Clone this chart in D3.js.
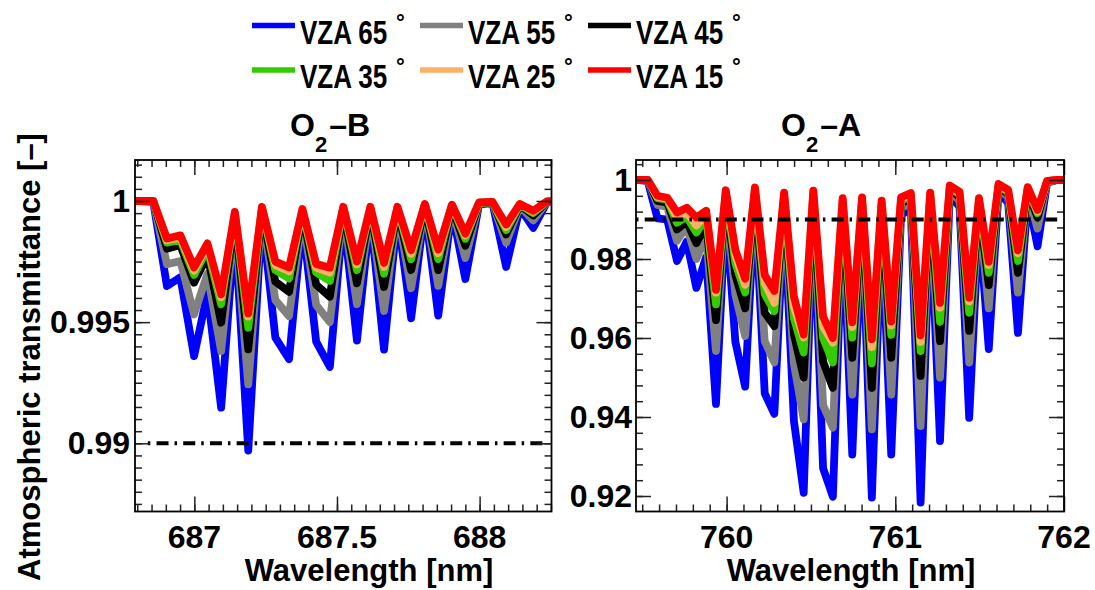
<!DOCTYPE html>
<html><head><meta charset="utf-8">
<script src="https://cdn.jsdelivr.net/npm/d3@7"></script>
<style>
body{margin:0;background:#fff}
svg{display:block}
text{font-family:"Liberation Sans",Arial,Helvetica,sans-serif;font-weight:bold;fill:#000}
</style>
</head><body>
<svg id="c" width="1095" height="590"></svg>
<script>
// ---------- data ----------
const seriesNames = ["VZA 65", "VZA 55", "VZA 45", "VZA 35", "VZA 25", "VZA 15"];
const seriesColors = ["#0000ff", "#808080", "#000000", "#33cc00", "#ffb066", "#ff0000"];

// O2-B band
const wlB = [686.761, 686.809, 686.856, 686.904, 686.951, 686.999, 687.046, 687.094, 687.142, 687.189,
  687.237, 687.284, 687.332, 687.379, 687.427, 687.475, 687.522, 687.570, 687.617, 687.665,
  687.712, 687.760, 687.808, 687.855, 687.903, 687.950, 687.998, 688.045, 688.093, 688.141,
  688.188, 688.236, 688.283];
const tB65 = [1, 1, 0.99996, 0.99649, 0.99685, 0.99360, 0.99620, 0.99147, 0.99895, 0.98970, 0.99944, 0.99436, 0.99347, 0.99922, 0.99420, 0.99315, 0.99944, 0.99424, 0.99944, 0.99387, 0.99944, 0.99516, 0.99971, 0.99527, 0.99965, 0.99678, 0.99985, 0.99992, 0.99728, 0.99972, 0.99889, 0.99994, 1];
const tB55 = [1, 1, 0.99999, 0.99739, 0.99752, 0.99532, 0.99700, 0.99381, 0.99922, 0.99243, 0.99958, 0.99591, 0.99525, 0.99942, 0.99571, 0.99500, 0.99958, 0.99574, 0.99958, 0.99546, 0.99958, 0.99640, 0.99978, 0.99650, 0.99974, 0.99765, 0.99989, 0.99994, 0.99828, 0.99979, 0.99920, 0.99996, 1];
const tB45 = [1, 1, 1, 0.99803, 0.99818, 0.99663, 0.99775, 0.99498, 0.99939, 0.99388, 0.99967, 0.99667, 0.99625, 0.99954, 0.99655, 0.99605, 0.99967, 0.99660, 0.99967, 0.99645, 0.99967, 0.99715, 0.99983, 0.99715, 0.99979, 0.99815, 0.99991, 0.99995, 0.99862, 0.99983, 0.99940, 0.99997, 1];
const tB35 = [1, 1, 1, 0.99828, 0.99840, 0.99695, 0.99802, 0.99574, 0.99947, 0.99477, 0.99971, 0.99715, 0.99680, 0.99960, 0.99705, 0.99670, 0.99971, 0.99715, 0.99971, 0.99700, 0.99971, 0.99760, 0.99985, 0.99760, 0.99982, 0.99844, 0.99992, 0.99995, 0.99880, 0.99985, 0.99950, 0.99997, 1];
const tB25 = [1, 1, 1, 0.99838, 0.99850, 0.99713, 0.99815, 0.99603, 0.99952, 0.99523, 0.99974, 0.99736, 0.99710, 0.99964, 0.99725, 0.99705, 0.99974, 0.99739, 0.99974, 0.99728, 0.99974, 0.99782, 0.99987, 0.99785, 0.99984, 0.99858, 0.99993, 0.99996, 0.99893, 0.99987, 0.99956, 0.99998, 1];
const tB15 = [1, 1, 1, 0.99845, 0.99858, 0.99726, 0.99825, 0.99615, 0.99955, 0.99536, 0.99976, 0.99750, 0.99726, 0.99967, 0.99740, 0.99725, 0.99976, 0.99750, 0.99976, 0.99745, 0.99976, 0.99797, 0.99988, 0.99800, 0.99985, 0.99865, 0.99994, 0.99996, 0.99903, 0.99988, 0.99960, 0.99998, 1];

// O2-A band
const wlA = [759.417, 759.475, 759.533, 759.590, 759.648, 759.706, 759.764, 759.821, 759.879, 759.937,
  759.995, 760.052, 760.110, 760.168, 760.226, 760.283, 760.341, 760.399, 760.457, 760.514,
  760.572, 760.630, 760.688, 760.745, 760.803, 760.861, 760.919, 760.976, 761.034, 761.092,
  761.150, 761.207, 761.265, 761.323, 761.381, 761.438, 761.496, 761.554, 761.612, 761.669,
  761.727, 761.785, 761.843, 761.900, 761.958, 762.016];
const tA65 = [1, 1, 0.9997, 0.9903, 0.9900, 0.9795, 0.9844, 0.9727, 0.9805, 0.9433, 0.9930, 0.9590, 0.9477, 0.9950, 0.9460, 0.9408, 0.9920, 0.9390, 0.9208, 0.9935, 0.9270, 0.9198, 0.9900, 0.9305, 0.9902, 0.9196, 0.9890, 0.9305, 0.9910, 0.9930, 0.9183, 0.9928, 0.9339, 0.9962, 0.9932, 0.9398, 0.9902, 0.9572, 0.9970, 0.9942, 0.9613, 0.9958, 0.9832, 0.9993, 1, 1];
const tA55 = [1, 1, 0.9999, 0.9937, 0.9932, 0.9846, 0.9882, 0.9800, 0.9860, 0.9567, 0.9950, 0.9710, 0.9605, 0.9962, 0.9592, 0.9538, 0.9938, 0.9535, 0.9394, 0.9950, 0.9430, 0.9373, 0.9922, 0.9457, 0.9925, 0.9369, 0.9915, 0.9457, 0.9928, 0.9945, 0.9377, 0.9944, 0.9500, 0.9972, 0.9948, 0.9538, 0.9925, 0.9675, 0.9978, 0.9956, 0.9715, 0.9968, 0.9877, 0.9995, 1, 1];
const tA45 = [1, 1, 1, 0.9947, 0.9943, 0.9875, 0.9895, 0.9840, 0.9890, 0.9645, 0.9960, 0.9760, 0.9675, 0.9970, 0.9664, 0.9630, 0.9950, 0.9610, 0.9500, 0.9960, 0.9540, 0.9474, 0.9938, 0.9550, 0.9940, 0.9474, 0.9930, 0.9550, 0.9940, 0.9954, 0.9504, 0.9955, 0.9592, 0.9978, 0.9957, 0.9618, 0.9938, 0.9734, 0.9983, 0.9964, 0.9765, 0.9974, 0.9905, 0.9996, 1, 1];
const tA35 = [1, 1, 1, 0.9954, 0.9950, 0.9892, 0.9907, 0.9867, 0.9905, 0.9685, 0.9965, 0.9790, 0.9715, 0.9974, 0.9711, 0.9668, 0.9958, 0.9650, 0.9563, 0.9966, 0.9600, 0.9538, 0.9945, 0.9601, 0.9948, 0.9536, 0.9938, 0.9608, 0.9947, 0.9960, 0.9567, 0.9961, 0.9641, 0.9981, 0.9963, 0.9664, 0.9945, 0.9765, 0.9986, 0.9969, 0.9795, 0.9978, 0.9916, 0.9997, 1, 1];
const tA25 = [1, 1, 1, 0.9957, 0.9953, 0.9905, 0.9918, 0.9885, 0.9915, 0.9715, 0.9970, 0.9810, 0.9735, 0.9978, 0.9740, 0.9689, 0.9964, 0.9680, 0.9601, 0.9970, 0.9630, 0.9588, 0.9950, 0.9628, 0.9952, 0.9577, 0.9944, 0.9632, 0.9952, 0.9964, 0.9590, 0.9965, 0.9677, 0.9984, 0.9967, 0.9693, 0.9950, 0.9785, 0.9988, 0.9972, 0.9815, 0.9980, 0.9920, 0.9997, 1, 1];
const tA15 = [1, 1, 1, 0.9960, 0.9955, 0.9918, 0.9930, 0.9905, 0.9922, 0.9722, 0.9974, 0.9823, 0.9750, 0.9981, 0.9759, 0.9719, 0.9968, 0.9705, 0.9609, 0.9973, 0.9654, 0.9600, 0.9954, 0.9640, 0.9956, 0.9597, 0.9948, 0.9642, 0.9956, 0.9967, 0.9607, 0.9968, 0.9689, 0.9986, 0.9970, 0.9702, 0.9954, 0.9793, 0.9990, 0.9975, 0.9822, 0.9982, 0.9924, 0.9998, 1, 1];

// reference (threshold) lines
const refValue = 0.99;
const refXB = [686.837, 688.240];
const refXA = [759.463, 761.985];

// ticks
const xTicksB = [687, 687.5, 688], xTickLabelsB = ["687", "687.5", "688"];
const yTicksB = [0.99, 0.995, 1], yTickLabelsB = ["0.99", "0.995", "1"];
const xTicksA = [760, 761, 762], xTickLabelsA = ["760", "761", "762"];
const yTicksA = [0.92, 0.94, 0.96, 0.98, 1], yTickLabelsA = ["0.92", "0.94", "0.96", "0.98", "1"];
const xMinorB = d3.range(0, 30).map(i => +(686.8 + i * 0.05).toFixed(3));
const yMinorB = d3.range(0, 29).map(i => +(0.9875 + i * 0.0005).toFixed(5));
const xMinorA = d3.range(0, 26).map(i => +(759.5 + i * 0.1).toFixed(2));
const yMinorA = d3.range(0, 22).map(i => +(0.92 + i * 0.004).toFixed(4));

// ---------- drawing ----------
const svg = d3.select("#c");

function panel(cfg) {
  const x = d3.scaleLinear().domain(cfg.xDom).range([cfg.x0, cfg.x1]);
  const y = d3.scaleLinear().domain(cfg.yDom).range([cfg.y1, cfg.y0]);
  const g = svg.append("g");
  const cid = "clip" + cfg.id;
  g.append("clipPath").attr("id", cid).append("rect")
    .attr("x", cfg.x0).attr("y", cfg.y0).attr("width", cfg.x1 - cfg.x0).attr("height", cfg.y1 - cfg.y0);
  const plot = g.append("g").attr("clip-path", `url(#${cid})`);
  const line = d3.line().x(d => x(d[0])).y(d => y(d[1]));
  cfg.series.forEach((s, i) => {
    plot.append("path").datum(cfg.wl.map((w, j) => [w, s[j]]))
      .attr("d", line).attr("fill", "none")
      .attr("stroke", seriesColors[i]).attr("stroke-width", 7.8)
      .attr("stroke-linejoin", "round").attr("stroke-linecap", "round");
  });
  // dash-dot reference line
  plot.append("line")
    .attr("x1", x(cfg.refX[0])).attr("x2", x(cfg.refX[1]))
    .attr("y1", y(refValue)).attr("y2", y(refValue))
    .attr("stroke", "#000").attr("stroke-width", 4)
    .attr("stroke-dasharray", "2.5,6.2,12,6");

  // ticks (inward on all sides)
  const tk = (axisFn, scale, vals, size, tr) => {
    const a = g.append("g").attr("transform", tr)
      .call(axisFn(scale).tickValues(vals).tickSize(size).tickFormat(""));
    a.select(".domain").remove();
    a.selectAll("line").attr("stroke", "#222").attr("stroke-width", 1.5);
  };
  const xm = cfg.xMinor.filter(v => v > cfg.xDom[0] && v < cfg.xDom[1]);
  const ym = cfg.yMinor.filter(v => v > cfg.yDom[0] && v < cfg.yDom[1]);
  tk(d3.axisBottom, x, xm, -7, `translate(0,${cfg.y1})`);
  tk(d3.axisTop, x, xm, -7, `translate(0,${cfg.y0})`);
  tk(d3.axisBottom, x, cfg.xTicks, -15, `translate(0,${cfg.y1})`);
  tk(d3.axisTop, x, cfg.xTicks, -15, `translate(0,${cfg.y0})`);
  tk(d3.axisLeft, y, ym, -7, `translate(${cfg.x0},0)`);
  tk(d3.axisRight, y, ym, -7, `translate(${cfg.x1},0)`);
  tk(d3.axisLeft, y, cfg.yTicks, -15, `translate(${cfg.x0},0)`);
  tk(d3.axisRight, y, cfg.yTicks, -15, `translate(${cfg.x1},0)`);

  // frame
  g.append("rect").attr("x", cfg.x0).attr("y", cfg.y0)
    .attr("width", cfg.x1 - cfg.x0).attr("height", cfg.y1 - cfg.y0)
    .attr("fill", "none").attr("stroke", "#000").attr("stroke-width", 1.8);

  // tick labels
  cfg.xTicks.forEach((v, i) => {
    g.append("text").attr("x", x(v)).attr("y", 548).attr("text-anchor", "middle")
      .attr("font-size", 32).text(cfg.xLabels[i]);
  });
  cfg.yTicks.forEach((v, i) => {
    g.append("text").attr("x", cfg.yLabelX).attr("y", y(v) + 11).attr("text-anchor", "end")
      .attr("font-size", 32).text(cfg.yLabels[i]);
  });
  // x axis title
  g.append("text").attr("x", cfg.xTitleX).attr("y", 581).attr("text-anchor", "middle")
    .attr("font-size", 31).text("Wavelength [nm]");
  // panel title O2-B / O2-A
  const t = g.append("text").attr("x", cfg.titleX).attr("y", 136).attr("font-size", 32);
  t.append("tspan").text("O");
  t.append("tspan").attr("font-size", 22).attr("dy", 16).text("2");
  t.append("tspan").attr("dy", -16).attr("dx", 2).text("\u2013" + cfg.band);
}

panel({
  id: "B", x0: 135, x1: 551.5, y0: 160, y1: 511.5,
  xDom: [686.792, 688.252], yDom: [0.987186, 1.001692],
  wl: wlB, series: [tB65, tB55, tB45, tB35, tB25, tB15], refX: refXB,
  xTicks: xTicksB, xLabels: xTickLabelsB, yTicks: yTicksB, yLabels: yTickLabelsB,
  xMinor: xMinorB, yMinor: yMinorB, yLabelX: 130, xTitleX: 369, titleX: 290, band: "B"
});
panel({
  id: "A", x0: 636, x1: 1064, y0: 160, y1: 511.5,
  xDom: [759.463, 762.0], yDom: [0.916076, 1.005063],
  wl: wlA, series: [tA65, tA55, tA45, tA35, tA25, tA15], refX: refXA,
  xTicks: xTicksA, xLabels: xTickLabelsA, yTicks: yTicksA, yLabels: yTickLabelsA,
  xMinor: xMinorA, yMinor: yMinorA, yLabelX: 632, xTitleX: 851, titleX: 781, band: "A"
});

// y axis title
svg.append("text").attr("transform", "translate(40,357) rotate(-90)")
  .attr("text-anchor", "middle").attr("font-size", 31).text("Atmospheric transmittance [\u2013]");

// legend
const legCols = [252, 420, 588];
const legRows = [25.5, 70];
seriesNames.forEach((name, i) => {
  const cx = legCols[i % 3], ry = legRows[Math.floor(i / 3)];
  svg.append("line").attr("x1", cx).attr("x2", cx + 43).attr("y1", ry).attr("y2", ry)
    .attr("stroke", seriesColors[i]).attr("stroke-width", 5.5);
  svg.append("text").attr("transform", `translate(${cx + 48},${ry + 18}) scale(0.84,1.05)`)
    .attr("font-size", 31).text(name);
  svg.append("text").attr("x", cx + 144).attr("y", ry + 4).attr("font-size", 22)
    .attr("font-weight", "normal").text("\u00b0");
});
</script>
</body></html>
